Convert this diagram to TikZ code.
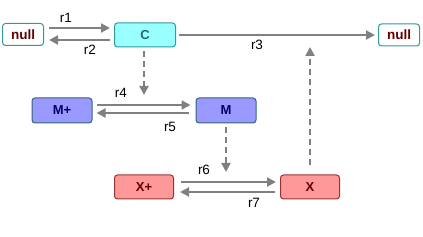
\documentclass[tikz,border=0pt]{standalone}
\usepackage{fontspec}
\setmainfont{Liberation Sans}
\usetikzlibrary{arrows.meta}
\definecolor{rxngray}{HTML}{808080}
\definecolor{nulltext}{HTML}{660000}
\definecolor{tealline}{HTML}{339999}
\definecolor{cfill}{HTML}{99FFFF}
\definecolor{mfill}{HTML}{9999FF}
\definecolor{mtext}{HTML}{000066}
\definecolor{mline}{HTML}{336677}
\definecolor{xfill}{HTML}{FF9999}
\definecolor{xline}{HTML}{993333}
\begin{document}
\begin{tikzpicture}[x=1pt, y=-1pt,
  every node/.style={font=\fontsize{12}{14}\selectfont},
  species/.style={draw, line width=1pt, rounded corners=3pt, inner sep=0pt,
    font=\fontsize{13}{15}\selectfont\bfseries},
  nullbox/.style={species, fill=white, draw=tealline, text=nulltext,
    minimum width=41pt, minimum height=22pt, font=\fontsize{13.5}{15}\selectfont\bfseries},
  cbox/.style={species, fill=cfill, draw=tealline, text=tealline!70!black,
    minimum width=61pt, minimum height=24pt},
  mbox/.style={species, fill=mfill, draw=mline, text=mtext,
    minimum width=60pt, minimum height=25pt},
  xbox/.style={species, fill=xfill, draw=xline, text=nulltext,
    minimum width=59pt, minimum height=24pt},
  rxn/.style={draw=rxngray, line width=2pt, -{Triangle[length=9pt,width=9pt]}, rxngray},
  modif/.style={rxn, dash pattern=on 6pt off 4pt},
  rlabel/.style={font=\fontsize{13.5}{15}\selectfont}]
  \useasboundingbox (0,0) rectangle (423,237);

  % Species
  \node[nullbox] (nl) at (23,34.5) {null};
  \node[cbox] (c) at (145,35) {C};
  \node[nullbox] (nr) at (399,35) {null};
  \node[mbox] (mp) at (62,110.5) {M+};
  \node[mbox] (m) at (226,110.5) {M};
  \node[xbox] (xp) at (144,187) {X+};
  \node[xbox] (x) at (310,187) {X};

  % Reactions r1, r2
  \draw[rxn, shorten <=5pt, shorten >=4pt] ([yshift=6.5pt]nl.east) -- ([yshift=7pt]c.west);
  \draw[rxn, shorten <=4pt, shorten >=5pt] ([yshift=-5pt]c.west) -- ([yshift=-5.5pt]nl.east);
  \node[rlabel] (r1) at (66,18) {r1};
  \node[rlabel] (r2) at (90,50) {r2};

  % Reaction r3
  \draw[rxn, shorten <=3pt, shorten >=3pt] (c.east) -- (nr.west) coordinate[pos=0.8] (r3m);
  \node[rlabel] (r3) at (257,45) {r3};

  % Reactions r4, r5
  \draw[rxn, shorten <=4pt, shorten >=5pt] ([yshift=5.5pt]mp.east) -- ([yshift=5.5pt]m.west);
  \draw[rxn, shorten <=7pt, shorten >=4pt] ([yshift=-2.5pt]m.west) -- ([yshift=-2.5pt]mp.east);
  \coordinate (r4m) at (144,105);
  \node[rlabel] (r4) at (121,93) {r4};
  \node[rlabel] (r5) at (170,127) {r5};

  % Reactions r6, r7
  \draw[rxn, shorten <=7pt, shorten >=4pt] ([yshift=5pt]xp.east) -- ([yshift=5pt]x.west);
  \draw[rxn, shorten <=5pt, shorten >=6pt] ([yshift=-5pt]x.west) -- ([yshift=-5pt]xp.east);
  \coordinate (r6m) at (226,182);
  \node[rlabel] (r6) at (204,170) {r6};
  \node[rlabel] (r7) at (254,203) {r7};

  % Modifiers
  \draw[modif, shorten <=4pt, shorten >=10pt] (c.south -| r4m) -- (r4m);
  \draw[modif, shorten <=4pt, shorten >=10pt] (m.south) -- (r6m);
  \draw[modif, shorten <=9pt, shorten >=12pt] (x.north) -- (x.north |- r3m);
\end{tikzpicture}
\end{document}
